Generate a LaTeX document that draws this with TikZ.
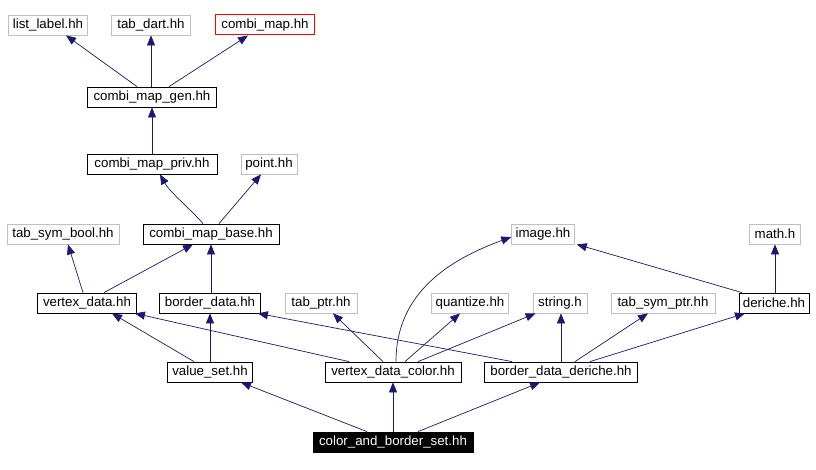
\documentclass[tikz,border=0pt]{standalone}
\usepackage{fontspec}
\setmainfont{Liberation Sans}
\usetikzlibrary{arrows.meta}
\definecolor{edgeblue}{RGB}{25,25,112}
\definecolor{extgray}{RGB}{191,191,191}
\definecolor{mainred}{RGB}{255,0,0}
\begin{document}
\begin{tikzpicture}[x=1pt,y=1pt,
    filebox/.style={line width=0.8pt,minimum height=20pt,inner xsep=4pt,inner ysep=0pt,
      font=\fontsize{13.3}{15}\selectfont},
    file/.style={filebox,draw=black},
    extfile/.style={filebox,draw=extgray},
    redfile/.style={filebox,line width=1pt,fill=white,draw=mainred},
    dep/.style={draw=edgeblue,line width=0.7pt,-{Triangle[length=10pt,width=8pt]}}]
    \useasboundingbox[fill=white] (0,0) rectangle (816,470);
    % included headers
    \node[extfile,minimum width=79pt] (listlabel) at (48,445) {list\_label.hh};
    \node[extfile,minimum width=79pt] (tabdart) at (151,445) {tab\_dart.hh};
    \node[redfile,minimum width=99pt] (combimap) at (265,445) {combi\_map.hh};
    \node[file,minimum width=129pt] (gen) at (152,373) {combi\_map\_gen.hh};
    \node[file,minimum width=130pt] (priv) at (152,306) {combi\_map\_priv.hh};
    \node[extfile,minimum width=56pt] (point) at (269,306) {point.hh};
    \node[extfile,minimum width=112pt] (tsbool) at (63,236) {tab\_sym\_bool.hh};
    \node[file,minimum width=136pt] (base) at (211,236) {combi\_map\_base.hh};
    \node[extfile,minimum width=62pt] (image) at (543,236) {image.hh};
    \node[extfile,minimum width=51pt] (math) at (775,236) {math.h};
    \node[file,minimum width=99pt] (vdata) at (87,167) {vertex\_data.hh};
    \node[file,minimum width=101pt] (bdata) at (210,167) {border\_data.hh};
    \node[extfile,minimum width=72pt] (tabptr) at (321,167) {tab\_ptr.hh};
    \node[extfile,minimum width=77pt] (quant) at (470,167) {quantize.hh};
    \node[extfile,minimum width=54pt] (string) at (560,167) {string.h};
    \node[extfile,minimum width=104pt] (tsptr) at (663,167) {tab\_sym\_ptr.hh};
    \node[file,minimum width=70pt] (deriche) at (774,167) {deriche.hh};
    \node[file,minimum width=85pt] (vset) at (210,98) {value\_set.hh};
    \node[file,minimum width=136pt] (vdcolor) at (393,98) {vertex\_data\_color.hh};
    \node[file,minimum width=153pt] (bdderiche) at (561,98) {border\_data\_deriche.hh};
    \node[file,fill=black,text=white,minimum width=160pt] (cbset) at (393,28) {color\_and\_border\_set.hh};
    % dependencies
    \draw[dep] ([xshift=-15pt]gen.north) -- ([xshift=18pt]listlabel.south);
    \draw[dep] ([xshift=-1pt]gen.north) -- (tabdart.south);
    \draw[dep] ([xshift=17pt]gen.north) -- ([xshift=-17pt]combimap.south);
    \draw[dep] (priv.north) -- (gen.south);
    \draw[dep] ([xshift=-8pt]base.north) .. controls +(-12,14) and +(10,-18) .. ([xshift=8pt]priv.south);
    \draw[dep] ([xshift=8pt]base.north) -- ([xshift=-8pt]point.south);
    \draw[dep] ([xshift=-4pt]vdata.north) -- ([xshift=5pt]tsbool.south);
    \draw[dep] ([xshift=17pt]vdata.north) -- ([xshift=-18pt]base.south);
    \draw[dep] ([xshift=1pt]bdata.north) -- (base.south);
    \draw[dep] ([xshift=-16pt]vset.north) -- ([xshift=25pt]vdata.south);
    \draw[dep] (vset.north) -- (bdata.south);
    \draw[dep] ([xshift=-44pt]vdcolor.north) -- ([xshift=-2pt]vdata.south east);
    \draw[dep] ([xshift=-10pt]vdcolor.north) -- ([xshift=12pt]tabptr.south);
    \draw[dep] ([xshift=3pt]vdcolor.north) .. controls +(0,70) and +(-60,-22) .. ([yshift=-3pt]image.west);
    \draw[dep] ([xshift=12pt]vdcolor.north) -- ([xshift=-10pt]quant.south);
    \draw[dep] ([xshift=25pt]vdcolor.north) -- ([xshift=3pt]string.south west);
    \draw[dep] ([xshift=-49pt]bdderiche.north) -- ([xshift=-3pt]bdata.south east);
    \draw[dep] (bdderiche.north) -- ([xshift=1pt]string.south);
    \draw[dep] ([xshift=14pt]bdderiche.north) -- ([xshift=-15pt]tsptr.south);
    \draw[dep] ([xshift=29pt]bdderiche.north) -- ([xshift=-29pt]deriche.south);
    \draw[dep] ([xshift=-32pt]deriche.north) -- ([xshift=2pt]image.south east);
    \draw[dep] ([xshift=1pt]deriche.north) -- (math.south);
    \draw[dep] ([xshift=-26pt]cbset.north) -- ([xshift=31pt]vset.south);
    \draw[dep] (cbset.north) -- (vdcolor.south);
    \draw[dep] ([xshift=25pt]cbset.north) -- ([xshift=-21pt]bdderiche.south);
\end{tikzpicture}
\end{document}
